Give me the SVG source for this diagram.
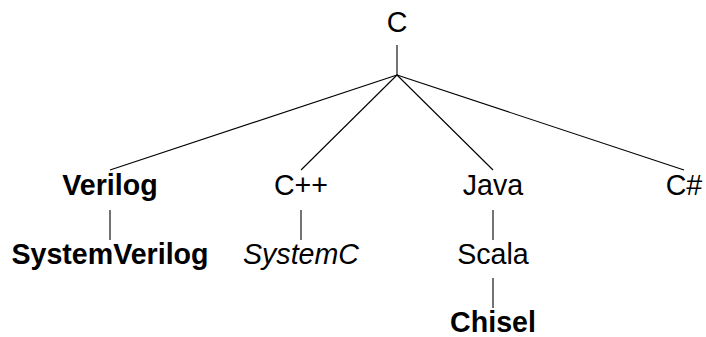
<svg xmlns="http://www.w3.org/2000/svg" width="706" height="337" viewBox="0 0 706 337">
<style>
text{font-family:"Liberation Sans",Arial,Helvetica,sans-serif;font-size:28.6px;fill:#000;text-anchor:middle}
.b{font-weight:bold}
.i{font-style:italic}
.e{stroke:#000;stroke-width:1.1;fill:none}
</style>
<rect width="706" height="337" fill="#fff"/>
<g id="connectors">
<line class="e" x1="397" y1="45" x2="397" y2="75"/>
<line class="e" x1="397" y1="75" x2="110" y2="170"/>
<line class="e" x1="397" y1="75" x2="301" y2="170"/>
<line class="e" x1="397" y1="75" x2="493" y2="170"/>
<line class="e" x1="397" y1="75" x2="684" y2="170"/>
<line class="e" x1="110" y1="210" x2="110" y2="240"/>
<line class="e" x1="301" y1="210" x2="301" y2="240"/>
<line class="e" x1="493" y1="210" x2="493" y2="240"/>
<line class="e" x1="493" y1="278" x2="493" y2="308"/>
</g>
<g id="n-c"><text x="397" y="32">C</text></g>
<g id="n-verilog"><text class="b" x="110" y="195">Verilog</text></g>
<g id="n-cpp"><text x="301" y="195">C++</text></g>
<g id="n-java"><text x="493" y="195">Java</text></g>
<g id="n-csharp"><text x="684" y="195">C#</text></g>
<g id="n-systemverilog"><text class="b" x="110" y="264">SystemVerilog</text></g>
<g id="n-systemc"><text class="i" x="301" y="264">SystemC</text></g>
<g id="n-scala"><text x="493" y="264">Scala</text></g>
<g id="n-chisel"><text class="b" x="493" y="332">Chisel</text></g>
</svg>
